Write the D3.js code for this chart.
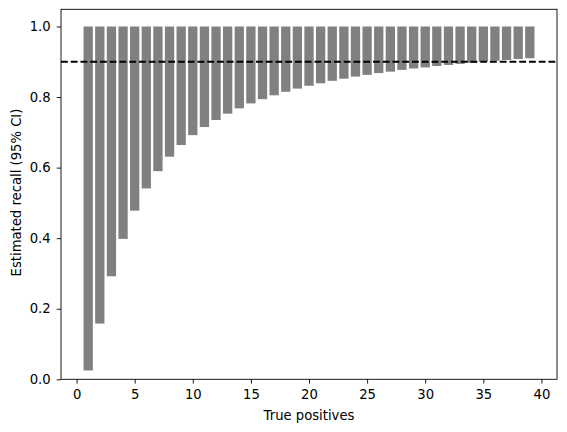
<!DOCTYPE html>
<html>
<head>
<meta charset="utf-8">
<script src="https://cdn.jsdelivr.net/npm/d3@7"></script>
<style>
  body { margin: 0; background: #fff; }
  text { font-family: "DejaVu Sans", sans-serif; }
</style>
</head>
<body>
<script>
// Données
const truePositives = d3.range(1, 40)
const lowerBound = [0.025, 0.158, 0.292, 0.398, 0.478, 0.541, 0.590, 0.631, 0.664, 0.692,
  0.715, 0.735, 0.753, 0.768, 0.782, 0.794, 0.805, 0.815, 0.824, 0.832,
  0.839, 0.846, 0.852, 0.858, 0.863, 0.868, 0.872, 0.877, 0.881, 0.884,
  0.888, 0.891, 0.894, 0.897, 0.900, 0.903, 0.905, 0.908, 0.910]
const upperBound = truePositives.map(() => 1.0)
const target = 0.9
const xTicks = [0, 5, 10, 15, 20, 25, 30, 35, 40]
const yTicks = [0.0, 0.2, 0.4, 0.6, 0.8, 1.0]

const width = 567, height = 432
const margin = { left: 61, right: 10, top: 9.3, bottom: 52.7 }
const fontSize = 13.2

const svg = d3.select('body')
  .append('svg')
  .attr('width', width)
  .attr('height', height)

const x = d3.scaleLinear().domain([-1.34, 41.34]).range([margin.left, width - margin.right])
const y = d3.scaleLinear().domain([0, 1.04875]).range([height - margin.bottom, margin.top])

// Barres
svg.append('g')
  .selectAll('rect')
  .data(truePositives)
  .enter()
  .append('rect')
    .attr('x', (d) => x(d - 0.4))
    .attr('width', x(0.8) - x(0))
    .attr('y', (d, i) => y(upperBound[i]))
    .attr('height', (d, i) => y(lowerBound[i]) - y(upperBound[i]))
    .attr('fill', 'gray')

// Ligne pointillée à 0.9
svg.append('line')
  .attr('x1', x.range()[0])
  .attr('x2', x.range()[1])
  .attr('y1', y(target))
  .attr('y2', y(target))
  .attr('stroke', 'black')
  .attr('stroke-width', 1.85)
  .attr('stroke-dasharray', '6.8,2.95')

// Axes
const xAxis = svg.append('g')
  .attr('transform', `translate(0,${y.range()[0]})`)
  .call(d3.axisBottom(x).tickValues(xTicks).tickSize(4.3).tickPadding(6.5).tickFormat(d3.format('d')))
const yAxis = svg.append('g')
  .attr('transform', `translate(${x.range()[0]},0)`)
  .call(d3.axisLeft(y).tickValues(yTicks).tickSize(4.3).tickPadding(6).tickFormat(d3.format('.1f')))

for (const ax of [xAxis, yAxis]) {
  ax.select('.domain').remove()
  ax.selectAll('text').attr('font-size', fontSize).attr('fill', 'black').attr('font-family', 'DejaVu Sans')
  ax.selectAll('line').attr('stroke', 'black').attr('stroke-width', 0.9)
}

// Cadre
svg.append('rect')
  .attr('x', x.range()[0])
  .attr('y', y.range()[1])
  .attr('width', x.range()[1] - x.range()[0])
  .attr('height', y.range()[0] - y.range()[1])
  .attr('fill', 'none')
  .attr('stroke', 'black')
  .attr('stroke-width', 0.9)

// Titres des axes
svg.append('text')
  .text('True positives')
  .attr('x', (x.range()[0] + x.range()[1]) / 2)
  .attr('y', 419.5)
  .attr('text-anchor', 'middle')
  .attr('font-size', fontSize)

svg.append('text')
  .text('Estimated recall (95% CI)')
  .attr('transform', `translate(20.5,192.5) rotate(-90)`)
  .attr('text-anchor', 'middle')
  .attr('font-size', fontSize)
</script>
</body>
</html>
